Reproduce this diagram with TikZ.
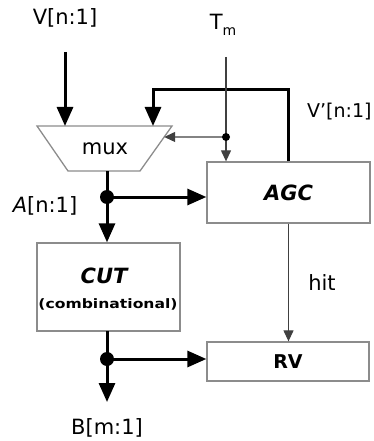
\documentclass[tikz,border=0pt]{standalone}
\usepackage{fontspec}
\setmainfont{DejaVu Sans}
\usetikzlibrary{arrows.meta,calc}
\begin{document}
\begin{tikzpicture}[x=1pt,y=-1pt,
  box/.style={draw=black!45,line width=1.3pt,inner sep=0pt},
  thickarrow/.style={line width=3pt,-{Triangle[length=19pt,width=16pt]}},
  thinarrow/.style={line width=1.2pt,draw=black!75,-{Triangle[length=11pt,width=10pt]}},
  lbl/.style={inner sep=0pt,font=\fontsize{21}{23}\selectfont},
  bdot/.style={circle,fill=black,inner sep=0pt,minimum size=14pt},
  sdot/.style={circle,fill=black,inner sep=0pt,minimum size=8pt}]
\useasboundingbox (0,0) rectangle (373,441);
% boxes
\node[box,minimum width=163pt,minimum height=61pt] (agc) at (288.5,192.5)
  {\fontsize{21}{23}\selectfont\bfseries\itshape AGC};
\node[box,minimum width=143pt,minimum height=88pt] (cut) at (108.5,287) {};
\node[lbl,font=\fontsize{21}{23}\selectfont\bfseries\itshape] (cutt) at (104,276) {CUT};
\node[lbl] (cutc) at (108,304) {\scalebox{1.2}[1]{\fontsize{13}{15}\selectfont\bfseries (combinational)}};
\node[box,minimum width=162pt,minimum height=39pt] (rv) at (288,361.5)
  {\fontsize{19}{21}\selectfont\bfseries RV};
% mux
\coordinate (mTL) at (37,126);
\coordinate (mTR) at (172,126);
\coordinate (mBR) at (140,171);
\coordinate (mBL) at (68,171);
\draw[box] (mTL) -- (mTR) -- (mBR) -- (mBL) -- cycle;
\node[lbl] (mux) at (105,149) {mux};
% labels
\node[lbl] (vlab) at (65,18) {V[n:1]};
\node[lbl] (tmlab) at (223,25) {T\raisebox{-0.5ex}{\fontsize{14}{16}\selectfont m}};
\node[lbl,anchor=west,font=\fontsize{19}{21}\selectfont] (vplab) at (307,112) {V'[n:1]};
\node[lbl] (alab) at (45,206) {\textit{A}[n:1]};
\node[lbl] (hitlab) at (322,283) {hit};
\node[lbl] (blab) at (107,428) {B[m:1]};
% coordinates
\coordinate (vin) at (65,52);
\coordinate (tm) at (226,57);
\coordinate (fbc) at (153,90);
\coordinate (tmd) at (226,137);
\coordinate (muxr) at ($(mTR)!0.244!(mBR)$);
\coordinate (mout) at (107,171);
\coordinate (ad) at (107,197);
\coordinate (cout) at (107,331);
\coordinate (bd) at (107,359);
\coordinate (bout) at (107,402);
% connectors
\draw[thickarrow] (vin) -- (vin |- mTL);
\draw[thickarrow] (agc.north) |- (fbc) -- (fbc |- mTL);
\draw[thinarrow] (tm) -- (tm |- agc.north);
\draw[thinarrow] (tmd) -- (muxr);
\node[sdot] (tmdot) at (tmd) {};
\draw[thickarrow] (mout) -- (mout |- cut.north);
\draw[thickarrow] (ad) -- (ad -| agc.west);
\node[bdot] (adot) at (ad) {};
\draw[thinarrow] (agc.south) -- (agc.south |- rv.north);
\draw[thickarrow] (cout) -- (bout);
\draw[thickarrow] (bd) -- (bd -| rv.west);
\node[bdot] (bdotn) at (bd) {};
\end{tikzpicture}
\end{document}
